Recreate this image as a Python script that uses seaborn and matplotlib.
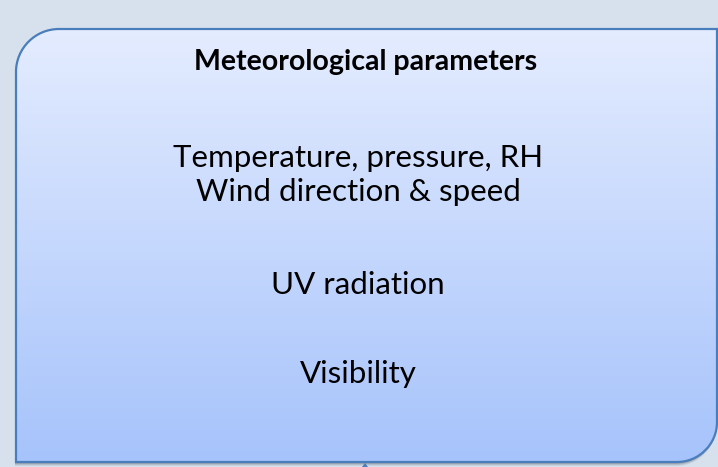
import numpy as np
import matplotlib
matplotlib.use("Agg")
import matplotlib.pyplot as plt
import seaborn as sns
from matplotlib.path import Path
from matplotlib.patches import PathPatch, Polygon

sns.set_theme(style="white")
plt.rcParams['font.family'] = ['Lato', 'DejaVu Sans']

title = "Meteorological parameters"
lines = ["Temperature, pressure, RH", "Wind direction & speed", "UV radiation", "Visibility"]
line_y = [167, 201, 294, 383]

W, H = 718, 467
fig = plt.figure(figsize=(W / 100, H / 100), dpi=100)
fig.patch.set_facecolor("#d6e1ed")
ax = fig.add_axes([0, 0, 1, 1])
ax.set_xlim(0, W)
ax.set_ylim(H, 0)
ax.axis("off")

L, T, R, B = 16, 29, 717, 462
r1, r2 = 43, 40
k = 0.5523


def box_path(dx=0, dy=0):
    l, t, rr, b = L + dx, T + dy, R + dx, B + dy
    verts = [
        (l + r1, t), (rr, t), (rr, b - r2),
        (rr, b - r2 + k * r2), (rr - r2 + k * r2, b), (rr - r2, b),
        (l, b), (l, t + r1),
        (l, t + r1 - k * r1), (l + r1 - k * r1, t), (l + r1, t),
    ]
    codes = [Path.MOVETO, Path.LINETO, Path.LINETO,
             Path.CURVE4, Path.CURVE4, Path.CURVE4,
             Path.LINETO, Path.LINETO,
             Path.CURVE4, Path.CURVE4, Path.CURVE4]
    return Path(verts, codes)

# shadow
for off, a in [(4, 0.12), (3, 0.18), (2, 0.25)]:
    ax.add_patch(PathPatch(box_path(-1, off), facecolor="#5b6470", edgecolor="none", alpha=a, zorder=1))

# gradient fill
top = np.array([0xe4, 0xec, 0xff]) / 255
bot = np.array([0xa6, 0xc3, 0xfb]) / 255
t = np.linspace(0, 1, 256)[:, None]
grad = (top[None, :] * (1 - t) + bot[None, :] * t)[:, None, :]
im = ax.imshow(grad, extent=(L, R, B, T), aspect="auto", zorder=2, interpolation="bilinear")
patch = PathPatch(box_path(), facecolor="none", edgecolor="#4a7dbb", lw=1.6, zorder=3)
ax.add_patch(patch)
im.set_clip_path(patch)
ax.set_xlim(0, W)
ax.set_ylim(H, 0)

# small arrow tip at the bottom
ax.add_patch(Polygon([(362, 467), (368, 467), (365, 463)], closed=True,
                     facecolor="#4a7dbb", edgecolor="none", zorder=4))

ax.text(366, 70, title, ha="center", va="baseline", fontsize=20.5, fontweight="bold", color="#000000", zorder=5)
for s, y in zip(lines, line_y):
    ax.text(358, y, s, ha="center", va="baseline", fontsize=22.5, color="#000000", zorder=5)

fig.savefig("out.png", dpi=100, facecolor=fig.get_facecolor())
